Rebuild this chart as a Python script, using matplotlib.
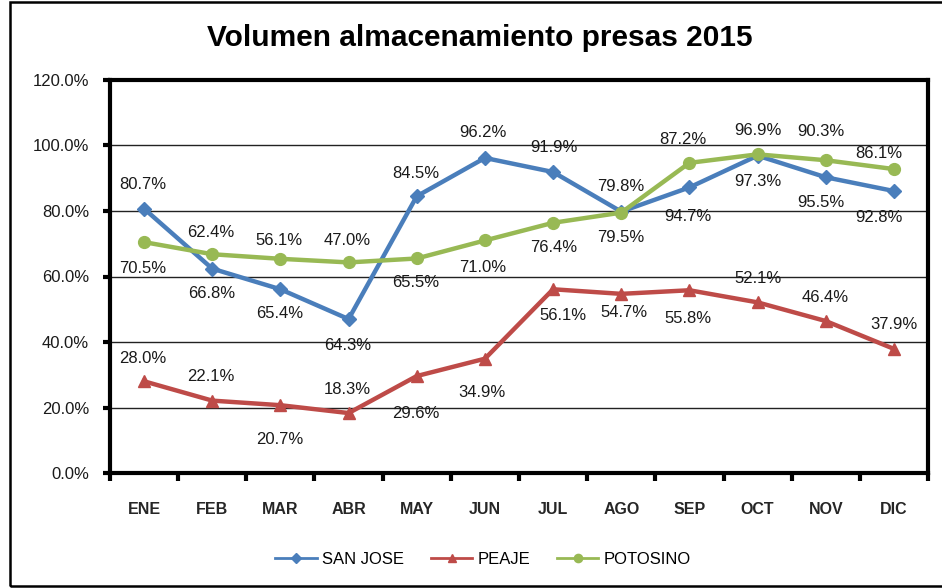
import numpy as np
import matplotlib
matplotlib.use("Agg")
from matplotlib import pyplot as plt
from matplotlib.patches import Rectangle
from matplotlib.lines import Line2D

plt.rcParams['font.family'] = ['Liberation Sans', 'DejaVu Sans']

meses = ['ENE', 'FEB', 'MAR', 'ABR', 'MAY', 'JUN', 'JUL', 'AGO', 'SEP', 'OCT', 'NOV', 'DIC']
san_jose = [80.7, 62.4, 56.1, 47.0, 84.5, 96.2, 91.9, 79.8, 87.2, 96.9, 90.3, 86.1]
peaje = [28.0, 22.1, 20.7, 18.3, 29.6, 34.9, 56.1, 54.7, 55.8, 52.1, 46.4, 37.9]
potosino = [70.5, 66.8, 65.4, 64.3, 65.5, 71.0, 76.4, 79.5, 94.7, 97.3, 95.5, 92.8]

# desplazamiento de las etiquetas (pixeles, x / y hacia arriba)
dx_sj = [-1, -1, -1, -1, -1, -2, 1, 0, -7, 0, -5, -15]
dy_sj = [24, 36, 49, 79, 23, 25, 25, 25, 48, 25, 46, 38]
dx_pe = [-1, -1, -1, -1, -1, -3, 10, 3, -1, 0, -1, 0]
dy_pe = [23, 24, -34, 24, -37, -34, -26, -19, -28, 24, 24, 24]
dx_po = [-1, -1, -1, -1, -1, -2, 1, 0, -2, 0, -5, -15]
dy_po = [-26, -39, -55, -83, -24, -27, -25, -25, -54, -27, -42, -48]

fig = plt.figure(figsize=(9.42, 5.88), dpi=100)
ax = fig.add_axes([110/942, 115/588, 818/942, 393/588])

x = np.arange(len(meses))
series = [
    ('SAN JOSE', san_jose, '#4A7EBB', 'D', 7, dx_sj, dy_sj),
    ('PEAJE', peaje, '#BE4B48', '^', 8.5, dx_pe, dy_pe),
    ('POTOSINO', potosino, '#98B954', 'o', 8.5, dx_po, dy_po),
]
handles = []
for nombre, vals, color, mk, ms, dxs, dys in series:
    ax.plot(x, vals, color=color, lw=3.2, marker=mk, markersize=ms, zorder=3)
    handles.append(Line2D([], [], color=color, lw=2, marker=mk, markersize=ms*0.7, label=nombre))
    for i, v in enumerate(vals):
        ax.annotate("%.1f%%" % v, (x[i], v), xytext=(dxs[i]*0.72, dys[i]*0.72),
                    textcoords='offset points', ha='center', va='center',
                    fontsize=12, color='#1a1a1a', zorder=4)

ax.set_xlim(-0.5, len(meses) - 0.5)
ax.set_ylim(0, 120)
ax.set_yticks(np.arange(0, 121, 20))
ax.set_yticklabels(["%.1f%%" % v for v in np.arange(0, 121, 20)])
ax.yaxis.grid(True, color='#222222', lw=1)
ax.set_axisbelow(True)

ax.set_xticks(np.arange(-0.5, len(meses), 1))
ax.set_xticklabels([])
ax.set_xticks(x, minor=True)
ax.set_xticklabels(meses, minor=True, fontsize=11.5, fontweight='bold', color='#262626')
ax.tick_params(axis='x', which='minor', length=0, pad=21)
ax.tick_params(axis='x', which='major', length=6, width=3, direction='out')
ax.tick_params(axis='y', length=5, width=3, direction='out', labelsize=12, pad=10, labelcolor='#1a1a1a')

for s in ax.spines.values():
    s.set_linewidth(3)
    s.set_color('black')

fig.text(480/942, 1 - 38/588, 'Volumen almacenamiento presas 2015', ha='center', va='center',
         fontsize=21.5, fontweight='bold', color='black')

fig.legend(handles=handles, loc='center', bbox_to_anchor=(483/942, 1 - 559/588), ncol=3,
           frameon=False, fontsize=12, handlelength=2.5, columnspacing=1.6, handletextpad=0.3)

fig.add_artist(Rectangle((10/942, 2/588), 1.0, 584/588, transform=fig.transFigure,
                         fill=False, lw=1.8, edgecolor='black', clip_on=False))

fig.savefig('out.png', dpi=100)
